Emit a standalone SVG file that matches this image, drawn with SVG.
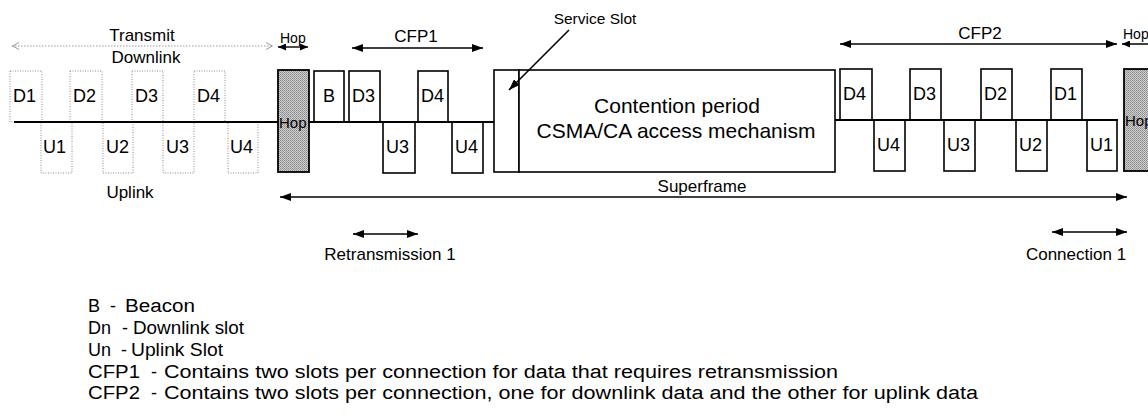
<svg xmlns="http://www.w3.org/2000/svg" width="1148" height="419" viewBox="0 0 1148 419">
  <defs>
    <style>
      text { font-family: "Liberation Sans", Arial, Helvetica, sans-serif; fill: #000; }
      .lbl { font-size: 17px; }
      .small { font-size: 14px; }
      .svc { font-size: 15.5px; }
      .hoptxt { font-size: 15px; }
      .slot-text { font-size: 18px; }
      .big { font-size: 21px; }
      .legend { font-size: 18px; }
      .slot { fill: #fff; stroke: #000; stroke-width: 1.6; }
      .ghost { fill: #fff; stroke: #8c8c8c; stroke-width: 1; stroke-dasharray: 1 1.5; }
      .hop { fill: url(#stipple); stroke: #000; stroke-width: 1.8; }
      .axis { stroke: #000; stroke-width: 1.8; fill: none; }
      .dim { stroke: #000; stroke-width: 1.6; fill: none; marker-start: url(#ah); marker-end: url(#ah); }
      .dim-small { stroke: #000; stroke-width: 1.4; fill: none; marker-start: url(#ahSmall); marker-end: url(#ahSmall); }
      .dim-ghost { stroke: #9a9a9a; stroke-width: 1; stroke-dasharray: 1.5 1.5; fill: none; marker-start: url(#ahOpen); marker-end: url(#ahOpen); }
      .pointer { stroke: #000; stroke-width: 1.6; fill: none; marker-end: url(#ah); }
    </style>
    <!-- stippled grey fill for the hop slots -->
    <pattern id="stipple" width="2" height="2" patternUnits="userSpaceOnUse">
      <rect width="2" height="2" fill="#cfcfcf"/>
      <rect width="1" height="1" fill="#8a8a8a"/>
      <rect x="1" y="1" width="1" height="1" fill="#9c9c9c"/>
    </pattern>
    <marker id="ah" viewBox="0 0 11 8" refX="11" refY="4" markerWidth="11" markerHeight="8" markerUnits="userSpaceOnUse" orient="auto-start-reverse">
      <path d="M0,0 L11,4 L0,8 z" fill="#000"/>
    </marker>
    <marker id="ahSmall" viewBox="0 0 8 7" refX="8" refY="3.5" markerWidth="8" markerHeight="7" markerUnits="userSpaceOnUse" orient="auto-start-reverse">
      <path d="M0,0 L8,3.5 L0,7 z" fill="#000"/>
    </marker>
    <marker id="ahOpen" viewBox="0 0 8 8" refX="8" refY="4" markerWidth="8" markerHeight="8" markerUnits="userSpaceOnUse" orient="auto-start-reverse">
      <path d="M1,0.5 L7.5,4 L1,7.5" fill="none" stroke="#9a9a9a" stroke-width="1"/>
    </marker>
  </defs>

  <rect width="1148" height="419" fill="#fff"/>

  <!-- transmit frame (outlined slots) -->
  <g id="tx-d1"><rect class="ghost" x="10" y="71" width="32" height="51"/><text class="slot-text" x="13" y="102">D1</text></g>
  <g id="tx-d2"><rect class="ghost" x="70" y="71" width="32" height="51"/><text class="slot-text" x="73" y="102">D2</text></g>
  <g id="tx-d3"><rect class="ghost" x="132" y="71" width="31" height="51"/><text class="slot-text" x="135" y="102">D3</text></g>
  <g id="tx-d4"><rect class="ghost" x="194" y="71" width="31" height="51"/><text class="slot-text" x="197" y="102">D4</text></g>
  <g id="tx-u1"><rect class="ghost" x="41" y="122" width="31" height="51"/><text class="slot-text" x="43" y="153">U1</text></g>
  <g id="tx-u2"><rect class="ghost" x="103" y="122" width="30" height="51"/><text class="slot-text" x="106" y="153">U2</text></g>
  <g id="tx-u3"><rect class="ghost" x="163" y="122" width="31" height="51"/><text class="slot-text" x="166" y="153">U3</text></g>
  <g id="tx-u4"><rect class="ghost" x="228" y="122" width="30" height="51"/><text class="slot-text" x="230" y="153">U4</text></g>

  <!-- hop slots -->
  <g id="hop-1"><rect class="hop" x="278" y="70" width="31" height="102"/><text class="hoptxt" x="279" y="128">Hop</text></g>
  <g id="hop-2"><rect class="hop" x="1124" y="69" width="40" height="102"/><text class="hoptxt" x="1125" y="126">Hop</text></g>

  <!-- beacon and CFP1 -->
  <g id="beacon"><rect class="slot" x="314" y="71" width="30" height="51"/><text class="slot-text" x="323" y="102">B</text></g>
  <g id="cfp1-d3"><rect class="slot" x="349" y="71" width="31" height="51"/><text class="slot-text" x="352" y="102">D3</text></g>
  <g id="cfp1-u3"><rect class="slot" x="383" y="122" width="32" height="51"/><text class="slot-text" x="386" y="153">U3</text></g>
  <g id="cfp1-d4"><rect class="slot" x="418" y="71" width="30" height="51"/><text class="slot-text" x="421" y="102">D4</text></g>
  <g id="cfp1-u4"><rect class="slot" x="452" y="122" width="31" height="51"/><text class="slot-text" x="455" y="153">U4</text></g>

  <!-- service slot and contention period -->
  <g id="service-slot"><rect class="slot" x="494" y="70" width="25" height="102"/></g>
  <g id="contention">
    <rect class="slot" x="519" y="70" width="316" height="102"/>
    <text class="big" x="677" y="113" text-anchor="middle">Contention period</text>
    <text class="big" x="676" y="138" text-anchor="middle">CSMA/CA access mechanism</text>
  </g>

  <!-- CFP2 -->
  <g id="cfp2-d4"><rect class="slot" x="840" y="69" width="32" height="51"/><text class="slot-text" x="843" y="100">D4</text></g>
  <g id="cfp2-u4"><rect class="slot" x="874" y="120" width="31" height="51"/><text class="slot-text" x="877" y="151">U4</text></g>
  <g id="cfp2-d3"><rect class="slot" x="910" y="69" width="31" height="51"/><text class="slot-text" x="913" y="100">D3</text></g>
  <g id="cfp2-u3"><rect class="slot" x="944" y="120" width="31" height="51"/><text class="slot-text" x="947" y="151">U3</text></g>
  <g id="cfp2-d2"><rect class="slot" x="981" y="69" width="31" height="51"/><text class="slot-text" x="984" y="100">D2</text></g>
  <g id="cfp2-u2"><rect class="slot" x="1016" y="120" width="31" height="51"/><text class="slot-text" x="1019" y="151">U2</text></g>
  <g id="cfp2-d1"><rect class="slot" x="1051" y="69" width="31" height="51"/><text class="slot-text" x="1054" y="100">D1</text></g>
  <g id="cfp2-u1"><rect class="slot" x="1087" y="120" width="30" height="51"/><text class="slot-text" x="1090" y="151">U1</text></g>

  <!-- timeline axes, dimension arrows and the service-slot pointer -->
  <g id="connectors">
    <line class="axis" x1="14" y1="122" x2="278" y2="122"/>
    <line class="axis" x1="309" y1="122" x2="494" y2="122"/>
    <line class="axis" x1="835" y1="120" x2="1118" y2="120"/>
    <line class="dim-ghost" x1="12" y1="46" x2="273" y2="46"/>
    <line class="dim-small" x1="278" y1="47" x2="308" y2="47"/>
    <line class="dim" x1="352" y1="48" x2="483" y2="48"/>
    <line class="dim" x1="840" y1="44" x2="1117" y2="44"/>
    <line class="dim-small" x1="1122" y1="44" x2="1160" y2="44"/>
    <line class="dim" x1="280" y1="197" x2="1127" y2="197"/>
    <line class="dim" x1="353" y1="234" x2="418" y2="234"/>
    <line class="dim" x1="1052" y1="232" x2="1127" y2="232"/>
    <line class="pointer" x1="569" y1="30" x2="509" y2="90"/>
  </g>

  <!-- labels -->
  <g id="labels">
    <text class="lbl" x="142" y="41" text-anchor="middle">Transmit</text>
    <text class="lbl" x="146" y="63" text-anchor="middle">Downlink</text>
    <text class="lbl" x="130" y="198" text-anchor="middle">Uplink</text>
    <text class="small" x="280" y="43">Hop</text>
    <text class="lbl" x="416" y="42" text-anchor="middle">CFP1</text>
    <text class="svc" x="595" y="24" text-anchor="middle">Service Slot</text>
    <text class="lbl" x="980" y="39" text-anchor="middle">CFP2</text>
    <text class="small" x="1123" y="39">Hop</text>
    <text class="lbl" x="702" y="192" text-anchor="middle">Superframe</text>
    <text class="lbl" x="390" y="260" text-anchor="middle">Retransmission 1</text>
    <text class="lbl" x="1076" y="260" text-anchor="middle">Connection 1</text>
  </g>

  <!-- legend -->
  <g id="legend">
    <text class="legend" x="88" y="312">B</text>
    <text class="legend" x="110" y="312">-</text>
    <text class="legend" x="125" y="312" textLength="70" lengthAdjust="spacingAndGlyphs">Beacon</text>
    <text class="legend" x="88" y="334">Dn</text>
    <text class="legend" x="122" y="334">-</text>
    <text class="legend" x="133" y="334" textLength="111" lengthAdjust="spacingAndGlyphs">Downlink slot</text>
    <text class="legend" x="88" y="356">Un</text>
    <text class="legend" x="121" y="356">-</text>
    <text class="legend" x="131" y="356" textLength="92" lengthAdjust="spacingAndGlyphs">Uplink Slot</text>
    <text class="legend" x="88" y="378" textLength="52" lengthAdjust="spacingAndGlyphs">CFP1</text>
    <text class="legend" x="151" y="378">-</text>
    <text class="legend" x="164" y="378" textLength="674" lengthAdjust="spacingAndGlyphs">Contains two slots per connection for data that requires retransmission</text>
    <text class="legend" x="88" y="399" textLength="52" lengthAdjust="spacingAndGlyphs">CFP2</text>
    <text class="legend" x="151" y="399">-</text>
    <text class="legend" x="164" y="399" textLength="814" lengthAdjust="spacingAndGlyphs">Contains two slots per connection, one for downlink data and the other for uplink data</text>
  </g>
</svg>
